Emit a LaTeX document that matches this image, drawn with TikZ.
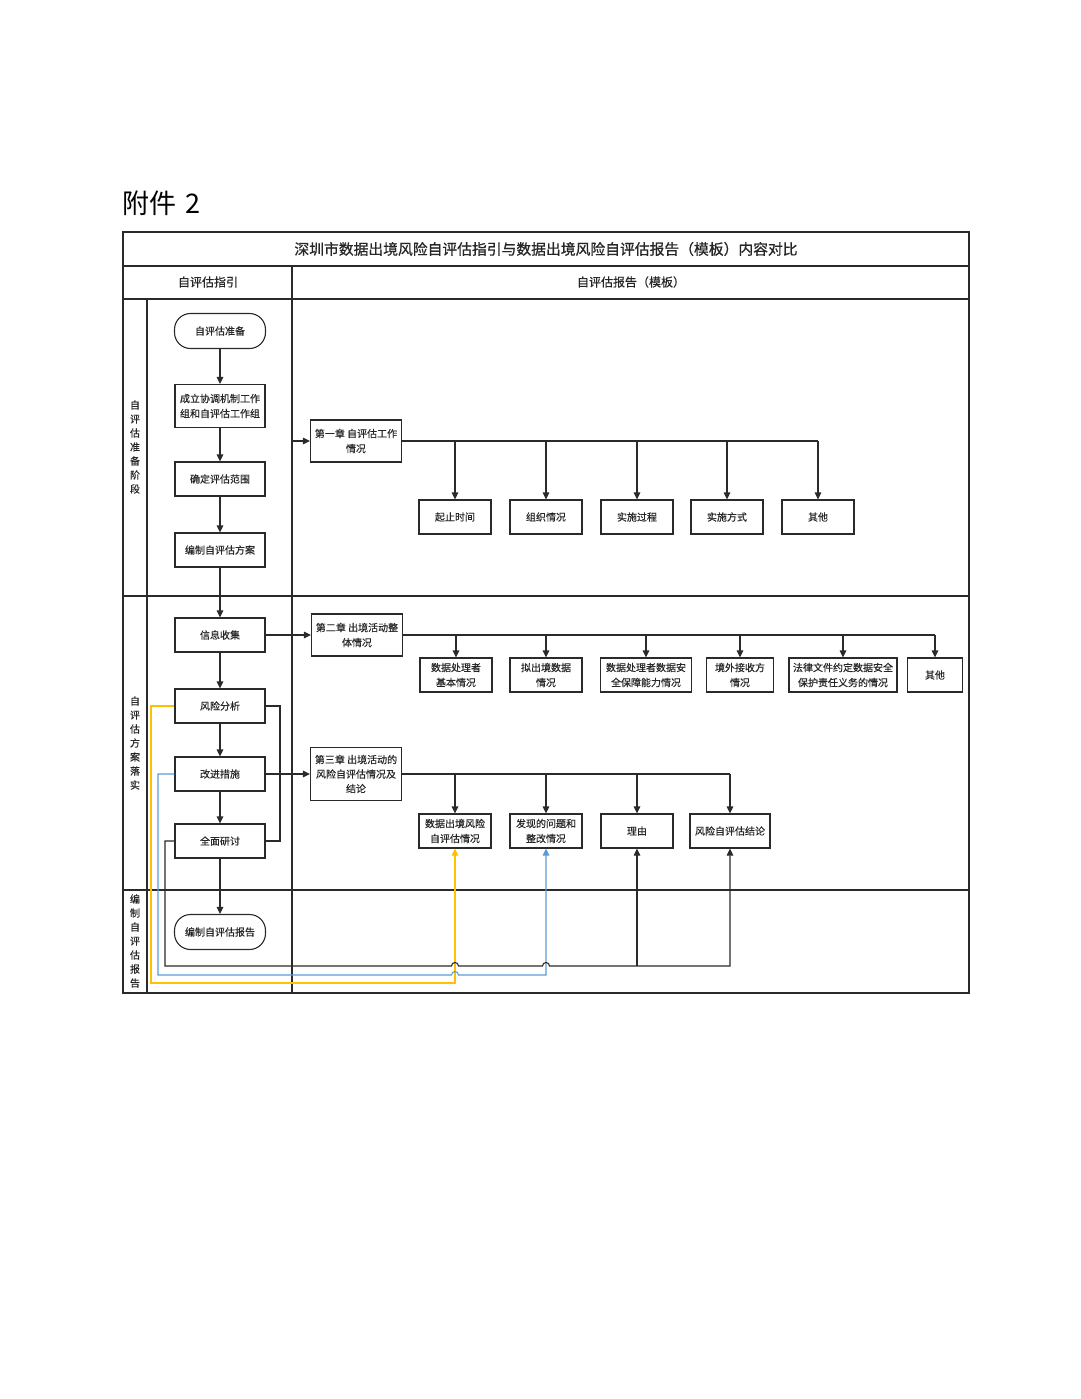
\documentclass[tikz,border=0pt]{standalone}
\usepackage{fontspec}
\newfontfamily\cjk[FakeBold=0.4]{Noto Sans CJK SC}
\newfontfamily\cjkt[FakeBold=0.8]{Noto Sans CJK SC}
\newfontfamily\cjkh{Noto Sans CJK SC}
\usetikzlibrary{arrows.meta}
\definecolor{lnc}{HTML}{2A2A2A}
\definecolor{ylc}{HTML}{FFC000}
\definecolor{blc}{HTML}{5B9BD5}
\begin{document}
\begin{tikzpicture}[x=1pt,y=-1pt,
  tbl/.style={line width=1.4pt, draw=lnc},
  box/.style={draw=lnc, line width=1.1pt, minimum width=90pt, minimum height=34pt, inner sep=1pt, align=center, text=black!85, font=\cjk\fontsize{10}{15}\selectfont},
  pill/.style={box, rounded corners=16pt, minimum width=91pt, minimum height=35pt},
  kid/.style={box, minimum width=72pt, minimum height=34pt},
  chap/.style={box, minimum width=91pt, minimum height=42pt},
  ln/.style={line width=1.1pt, draw=lnc},
  arr/.style={ln, -{Triangle[length=7pt,width=6.5pt]}},
  yarr/.style={line width=1.1pt, draw=ylc, -{Triangle[length=7pt,width=6.5pt]}},
  barr/.style={line width=1.1pt, draw=blc, -{Triangle[length=7pt,width=6.5pt]}},
  lbl/.style={inner sep=0pt, text=black!85, font=\cjk\fontsize{12}{14}\selectfont},
  vlbl/.style={inner sep=0pt, align=center, text=black!85, font=\cjk\fontsize{10}{14}\selectfont}
]
\useasboundingbox (0,0) rectangle (1080,1399);

% heading
\node[inner sep=0pt, anchor=west, font=\cjkh\fontsize{27}{29}\selectfont] (fj) at (122,203) {附件\hspace{9pt}2};

% table frame
\draw[tbl] (123,232) rectangle (969,993);
\draw[tbl] (123,266) -- (969,266);
\draw[tbl] (123,299) -- (969,299);
\draw[tbl] (123,596) -- (969,596);
\draw[tbl] (123,890) -- (969,890);
\draw[tbl] (292,266) -- (292,993);
\draw[tbl] (147,299) -- (147,993);

\node[lbl, font=\cjkt\fontsize{14.8}{16}\selectfont] (title) at (546,249) {深圳市数据出境风险自评估指引与数据出境风险自评估报告（模板）内容对比};
\node[lbl] (h1) at (208,282) {自评估指引};
\node[lbl] (h2) at (631,282) {自评估报告（模板）};

\node[vlbl] (p1) at (135,447) {自\\评\\估\\准\\备\\阶\\段};
\node[vlbl] (p2) at (135,743) {自\\评\\估\\方\\案\\落\\实};
\node[vlbl] (p3) at (135,941) {编\\制\\自\\评\\估\\报\\告};

% left flow
\node[pill] (s0) at (220,331) {自评估准备};
\node[box, minimum height=43pt] (s1) at (220,406) {成立协调机制工作\\组和自评估工作组};
\node[box] (s2) at (220,479) {确定评估范围};
\node[box] (s3) at (220,550) {编制自评估方案};
\node[box] (s4) at (220,635) {信息收集};
\node[box] (s5) at (220,706) {风险分析};
\node[box] (s6) at (220,774) {改进措施};
\node[box] (s7) at (220,841) {全面研讨};
\node[pill] (s8) at (220,932) {编制自评估报告};

\draw[arr] (s0) -- (s1);
\draw[arr] (s1) -- (s2);
\draw[arr] (s2) -- (s3);
\draw[arr] (s3) -- (s4);
\draw[arr] (s4) -- (s5);
\draw[arr] (s5) -- (s6);
\draw[arr] (s6) -- (s7);
\draw[arr] (s7) -- (s8);

% chapters
\node[chap] (c1) at (356,441) {第一章 自评估工作\\情况};
\node[chap] (c2) at (357,635) {第二章 出境活动整\\体情况};
\node[chap, minimum height=53pt, font=\cjk\fontsize{10}{14.5}\selectfont] (c3) at (356,774) {第三章 出境活动的\\风险自评估情况及\\结论};

\coordinate (lane1) at (292,441);
\draw[arr] (lane1) -- (c1.west);
\draw[arr] (s4.east) -- (c2.west);
\draw[arr] (s6.east) -- (c3.west);
\draw[ln] (s5.east) -- (280,706) -- (280,841) -- (s7.east);

% chapter 1 children
\node[kid] (a1) at (455,517) {起止时间};
\node[kid] (a2) at (546,517) {组织情况};
\node[kid] (a3) at (637,517) {实施过程};
\node[kid] (a4) at (727,517) {实施方式};
\node[kid] (a5) at (818,517) {其他};
\draw[ln] (c1.east) -- (c1.east -| a5.north);
\foreach \k in {a1,a2,a3,a4,a5} \draw[arr] (c1.east -| \k.north) -- (\k.north);

% chapter 2 children
\node[kid] (b1) at (456,675) {数据处理者\\基本情况};
\node[kid] (b2) at (546,675) {拟出境数据\\情况};
\node[kid, minimum width=91pt] (b3) at (646,675) {数据处理者数据安\\全保障能力情况};
\node[kid, minimum width=67pt] (b4) at (740,675) {境外接收方\\情况};
\node[kid, minimum width=108pt] (b5) at (843,675) {法律文件约定数据安全\\保护责任义务的情况};
\node[kid, minimum width=55pt] (b6) at (935,675) {其他};
\draw[ln] (c2.east) -- (c2.east -| b6.north);
\foreach \k in {b1,b2,b3,b4,b5,b6} \draw[arr] (c2.east -| \k.north) -- (\k.north);

% chapter 3 children
\node[kid] (d1) at (455,831) {数据出境风险\\自评估情况};
\node[kid] (d2) at (546,831) {发现的问题和\\整改情况};
\node[kid] (d3) at (637,831) {理由};
\node[kid, minimum width=80pt] (d4) at (730,831) {风险自评估结论};
\draw[ln] (c3.east) -- (c3.east -| d4.north);
\foreach \k in {d1,d2,d3,d4} \draw[arr] (c3.east -| \k.north) -- (\k.north);

% feedback lines
\draw[yarr] (s5.west) -- (151,706) -- (151,983) -- (455,983) -- (d1.south);
\draw[barr] (s6.west) -- (158,774) -- (158,975) -- (451.5,975)
  arc[start angle=180,end angle=360,radius=3.5] -- (546,975) -- (d2.south);
\draw[arr] (s7.west) -- (165,841) -- (165,966) -- (451.5,966)
  arc[start angle=180,end angle=360,radius=3.5] -- (542.5,966)
  arc[start angle=180,end angle=360,radius=3.5] -- (730,966) -- (d4.south);
\coordinate (j3) at (637,966);
\draw[arr] (j3) -- (d3.south);

\end{tikzpicture}
\end{document}
